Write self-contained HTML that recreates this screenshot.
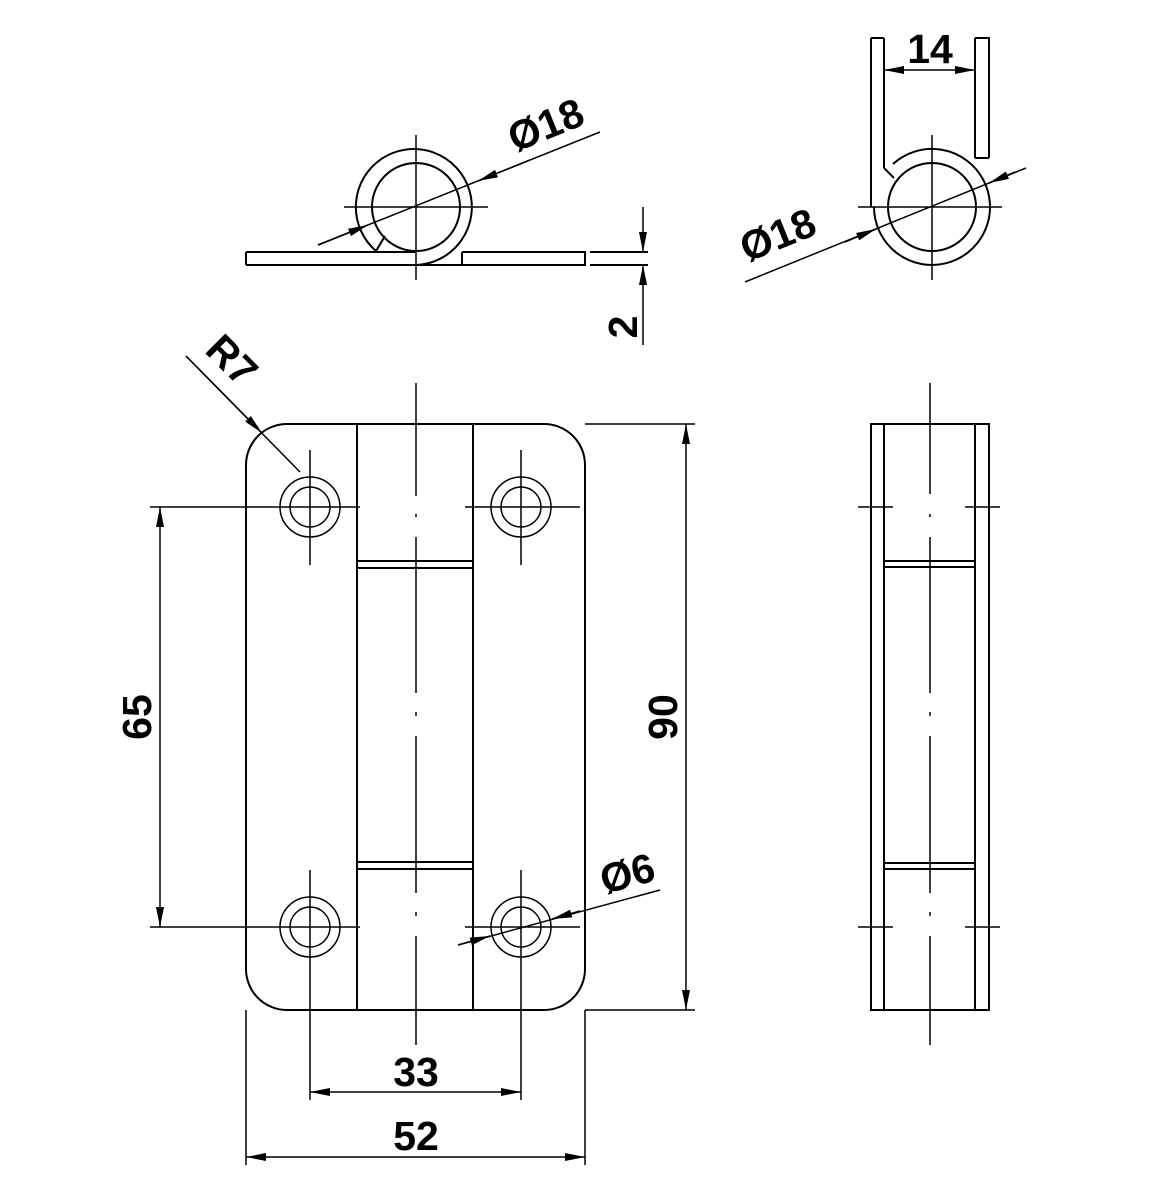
<!DOCTYPE html>
<html><head><meta charset="utf-8"><style>html,body{margin:0;padding:0;background:#fff}svg{display:block}</style></head><body>
<svg width="1169" height="1200" viewBox="0 0 1169 1200" xmlns="http://www.w3.org/2000/svg">
<defs>
<marker id="a" viewBox="0 0 20 8" refX="20" refY="4" markerWidth="20" markerHeight="8" markerUnits="userSpaceOnUse" orient="auto-start-reverse"><path d="M0,0 L20,4 L0,8 z" fill="#000"/></marker>
</defs>
<g fill="none" stroke="#000" stroke-width="2">
<!-- top-left view -->
<circle cx="416" cy="207" r="44"/>
<path d="M376,251 A58,58 0 1 1 416,265"/>
<path d="M376,251 L385,236"/>
<path d="M246,252 H416 M246,265 H416 M246,252 V265"/>
<path d="M462,252 H585 V265 H416 M462,252 V265"/>
<path d="M590,252 H648 M590,265 H648"/>
<path d="M416,135 V280 M344,207 H488" stroke-width="1.5"/>
<path d="M318,245 L600,132" stroke-width="1.5"/>
<path d="M318,245 L368,225" stroke-width="1.5" marker-end="url(#a)"/>
<path d="M530,160 L478,181" stroke-width="1.5" marker-end="url(#a)"/>
<path d="M643,207 V252" stroke-width="1.5" marker-end="url(#a)"/>
<path d="M643,345 V265" stroke-width="1.5" marker-end="url(#a)"/>
<!-- top-right view -->
<path d="M871,38 H884 M871,38 V207 M884,38 V168 M884,168 L894,178"/>
<path d="M975,38 H989 V158 M975,38 V158 M975,158 H989"/>
<circle cx="932" cy="207" r="44"/>
<path d="M893,164 A58,58 0 1 1 874,207"/>
<path d="M932,135 V280 M858,207 H1002" stroke-width="1.5"/>
<path d="M745,282 L1026,168" stroke-width="1.5"/>
<path d="M845,242 L876,229" stroke-width="1.5" marker-end="url(#a)"/>
<path d="M1015,172 L989,183" stroke-width="1.5" marker-end="url(#a)"/>
<path d="M930,70 H884" stroke-width="1.5" marker-end="url(#a)"/>
<path d="M930,70 H975" stroke-width="1.5" marker-end="url(#a)"/>
<!-- main view -->
<path d="M287,424 H544 A41,41 0 0 1 585,465 V969 A41,41 0 0 1 544,1010 H287 A41,41 0 0 1 246,969 V465 A41,41 0 0 1 287,424 Z"/>
<path d="M357,424 V1010 M473,424 V1010"/>
<path d="M357,561 H473 M357,568 H473 M357,862 H473 M357,869 H473"/>
<g stroke-width="1.5">
<circle cx="310" cy="507" r="30"/><circle cx="310" cy="507" r="20"/>
<circle cx="521" cy="507" r="30"/><circle cx="521" cy="507" r="20"/>
<circle cx="310" cy="927" r="30"/><circle cx="310" cy="927" r="20"/>
<circle cx="521" cy="927" r="30"/><circle cx="521" cy="927" r="20"/>
</g>
<g stroke-width="1.5">
<path d="M416,383 V496 M416,514 V517 M416,537 V693 M416,712 V716 M416,736 V893 M416,912 V916 M416,936 V1045"/>
<path d="M310,450 V565 M521,450 V565 M310,870 V1100 M521,870 V1100"/>
<path d="M150,507 H360 M465,507 H580 M150,927 H360 M465,927 H580"/>
<path d="M585,424 H695 M585,1010 H695"/>
<path d="M246,1010 V1165 M585,1010 V1165"/>
<path d="M458,945 L660,890"/>
<path d="M458,945 L490,936" marker-end="url(#a)"/>
<path d="M580,911 L552,919" marker-end="url(#a)"/>
<path d="M186,356 L300,472"/>
<path d="M186,356 L262,433" marker-end="url(#a)"/>
<path d="M160,717 V507" marker-end="url(#a)"/>
<path d="M160,717 V927" marker-end="url(#a)"/>
<path d="M686,717 V424" marker-end="url(#a)"/>
<path d="M686,717 V1010" marker-end="url(#a)"/>
<path d="M416,1092 H310" marker-end="url(#a)"/>
<path d="M416,1092 H521" marker-end="url(#a)"/>
<path d="M416,1157 H246" marker-end="url(#a)"/>
<path d="M416,1157 H585" marker-end="url(#a)"/>
</g>
<!-- side view -->
<path d="M871,424 H989 V1010 H871 Z M884,424 V1010 M975,424 V1010"/>
<path d="M884,561 H975 M884,567 H975 M884,863 H975 M884,869 H975"/>
<g stroke-width="1.5">
<path d="M930,383 V494 M930,514 V517 M930,537 V693 M930,712 V716 M930,736 V893 M930,912 V916 M930,936 V1045"/>
<path d="M858,507 H893 M965,507 H1000 M858,927 H893 M965,927 H1000"/>
</g>
</g>
<g font-family="Liberation Sans, sans-serif" font-weight="bold" font-size="41" fill="#000" text-anchor="middle">
<text x="551" y="138" transform="rotate(-22 551 138)">Ø18</text>
<text x="783" y="248" transform="rotate(-22 783 248)">Ø18</text>
<text x="930" y="63">14</text>
<text x="637" y="327" transform="rotate(-90 637 327)">2</text>
<text x="222" y="370" transform="rotate(45 222 370)">R7</text>
<text x="631" y="887" transform="rotate(-15 631 887)">Ø6</text>
<text x="151" y="717" transform="rotate(-90 151 717)">65</text>
<text x="677" y="717" transform="rotate(-90 677 717)">90</text>
<text x="416" y="1086">33</text>
<text x="416" y="1150">52</text>
</g>
</svg>
</body></html>
